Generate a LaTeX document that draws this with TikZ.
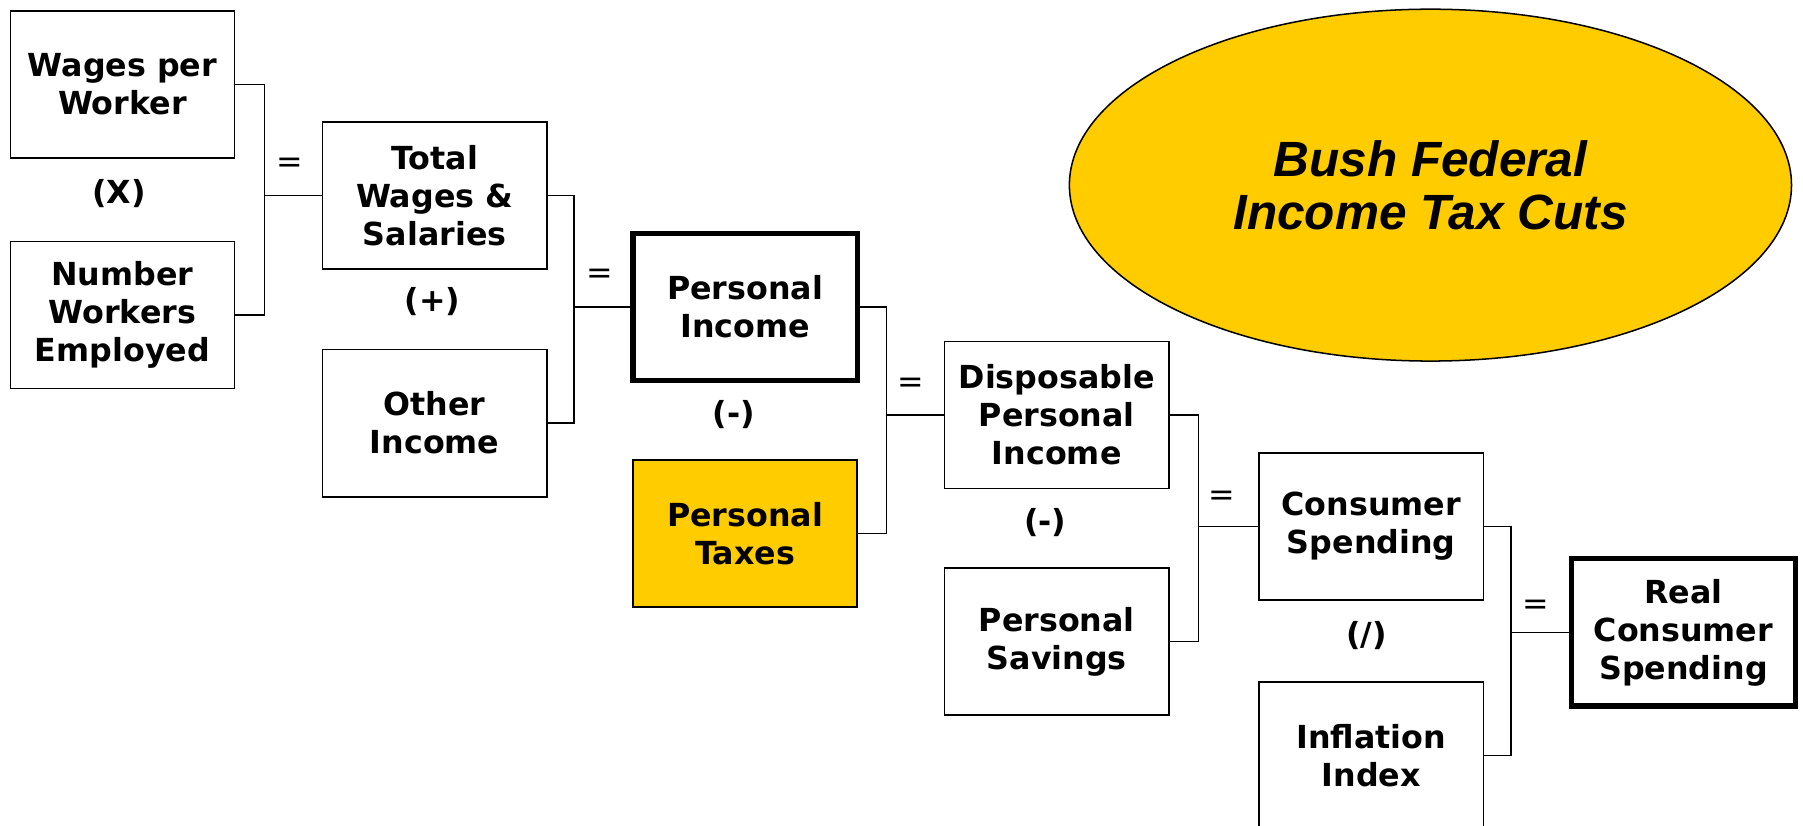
\documentclass[tikz,border=0pt]{standalone}
\usepackage{fontspec}
\setmainfont{DejaVu Sans}
\newfontfamily\ovalfont{Liberation Sans}
\usetikzlibrary{calc,shapes.geometric}
\definecolor{taxgold}{HTML}{FFCC00}

\begin{document}
\begin{tikzpicture}[
  box/.style={draw, line width=0.75pt, minimum width=3.9cm, minimum height=2.56cm,
    inner sep=0pt, align=center, font=\fontsize{15.7}{18.8}\selectfont\bfseries},
  keybox/.style={box, line width=2.6pt},
  taxbox/.style={box, fill=taxgold},
  oplabel/.style={font=\fontsize{15.7}{18.8}\selectfont\bfseries},
  eqsign/.style={font=\fontsize{15.7}{18.8}\selectfont},
  bracket/.style={line width=0.75pt}
]
\useasboundingbox (0,0) rectangle (31.36,-14.36);

% the chain of boxes
\node[box] (wages) at (2.13,-1.47) {Wages per\\Worker};
\node[box] (workers) at (2.13,-5.48) {Number\\Workers\\Employed};
\node[box] (totalwages) at (7.56,-3.40) {Total\\Wages \&\\Salaries};
\node[box] (otherinc) at (7.56,-7.36) {Other\\Income};
\node[keybox] (persinc) at (12.96,-5.34) {Personal\\Income};
\node[taxbox] (perstax) at (12.96,-9.28) {Personal\\Taxes};
\node[box] (dispinc) at (18.38,-7.22) {Disposable\\Personal\\Income};
\node[box] (savings) at (18.38,-11.16) {Personal\\Savings};
\node[box] (spending) at (23.85,-9.16) {Consumer\\Spending};
\node[box] (inflation) at (23.85,-13.14) {Inflation\\Index};
\node[keybox] (realspend) at (29.28,-11.0) {Real\\Consumer\\Spending};

% operators between the pairs
\node[oplabel] (optimes) at ($(wages.south)+(-0.06,-0.6)$) {(X)};
\node[oplabel] (opplus) at ($(totalwages.south)+(-0.04,-0.55)$) {(+)};
\node[oplabel] (opminus) at ($(persinc.south)+(-0.2,-0.55)$) {(-)};
\node[oplabel] (opminustwo) at ($(dispinc.south)+(-0.2,-0.58)$) {(-)};
\node[oplabel] (opdiv) at ($(spending.south)+(-0.08,-0.6)$) {(/)};

% brackets
\coordinate (j1) at ($(totalwages.west)+(-1.0,0)$);
\coordinate (j2) at ($(persinc.west)+(-0.98,0)$);
\coordinate (j3) at ($(dispinc.west)+(-1.0,0)$);
\coordinate (j4) at ($(spending.west)+(-1.04,0)$);
\coordinate (j5) at ($(realspend.west)+(-1.0,0)$);
\draw[bracket] (wages.east) -| (j1) |- (workers.east);
\draw[bracket] (j1) -- (totalwages.west);
\draw[bracket] (totalwages.east) -| (j2) |- (otherinc.east);
\draw[bracket] (j2) -- (persinc.west);
\draw[bracket] (persinc.east) -| (j3) |- (perstax.east);
\draw[bracket] (j3) -- (dispinc.west);
\draw[bracket] (dispinc.east) -| (j4) |- (savings.east);
\draw[bracket] (j4) -- (spending.west);
\draw[bracket] (spending.east) -| (j5) |- (inflation.east);
\draw[bracket] (j5) -- (realspend.west);

\node[eqsign] (eq1) at ($(j1)+(0.44,0.52)$) {=};
\node[eqsign] (eq2) at ($(j2)+(0.44,0.54)$) {=};
\node[eqsign] (eq3) at ($(j3)+(0.42,0.52)$) {=};
\node[eqsign] (eq4) at ($(j4)+(0.4,0.5)$) {=};
\node[eqsign] (eq5) at ($(j5)+(0.42,0.44)$) {=};

% the tax cut oval
\node[draw, ellipse, line width=0.75pt, fill=taxgold, minimum width=12.56cm,
  minimum height=6.12cm, inner sep=0pt, align=center,
  font=\ovalfont\fontsize{24.5}{26}\selectfont\bfseries\itshape]
  (taxcuts) at (24.88,-3.22) {Bush Federal\\Income Tax Cuts};
\end{tikzpicture}
\end{document}
